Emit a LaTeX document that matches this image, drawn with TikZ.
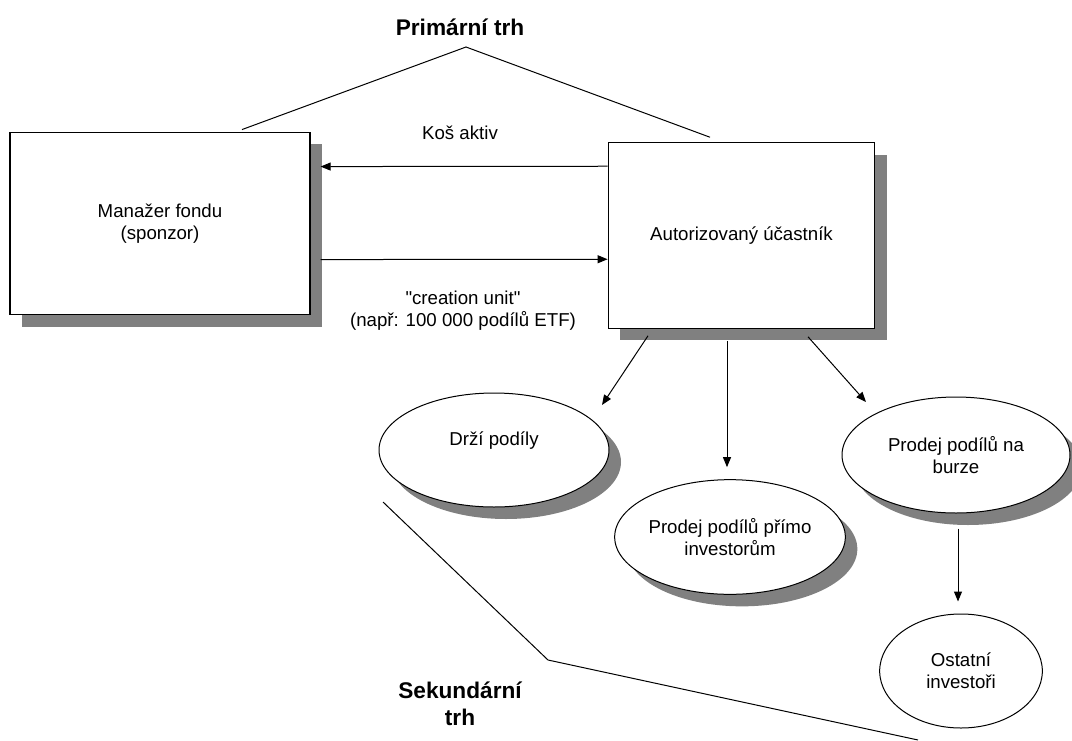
\documentclass[tikz,border=0pt]{standalone}
\usepackage{fontspec}
\setmainfont{Liberation Sans}[Ligatures=TeXOff]
\usetikzlibrary{positioning, shapes.geometric, shadows, arrows.meta}

\begin{document}
\begin{tikzpicture}[x=0.75pt,y=-0.75pt,line width=0.75pt,
    every node/.style={font=\fontsize{14}{16.5}\selectfont,align=center},
    titul/.style={font=\bfseries\fontsize{17}{20}\selectfont},
    stin/.style={drop shadow={shadow xshift=9pt,shadow yshift=-9pt,fill=gray,opacity=1}},
    box/.style={draw,line width=0.9pt,fill=white,rectangle,stin},
    elip/.style={draw,fill=white,ellipse,inner sep=0pt},
    arr/.style={-{Triangle[length=7.5pt,width=6pt]}}]
  \useasboundingbox (0,0) rectangle (1072,740);
  \node[titul] (pt) at (460,27) {Primární trh};%primární trh
  \node[box,minimum width=225pt,minimum height=137pt] (mf) at (160,223.5) {Manažer fondu\\(sponzor)};
  \node[box,minimum width=200pt,minimum height=139pt] (au) at (741.5,235.5) {Autorizovaný účastník};
  \node (ka) at (460,133) {Koš aktiv};
  \node (cu) at (463,311) {"creation unit"\\(např: 100 000 podílů ETF)};
  \node[elip,stin,minimum width=172.5pt,minimum height=85.5pt] (dp) at (494,450) {Drží podíly\\ \mbox{}};
  \node[elip,stin,minimum width=173pt,minimum height=86pt] (pp) at (730,537) {Prodej podílů přímo\\investorům};
  \node[elip,stin,minimum width=171pt,minimum height=87pt] (pb) at (956,455) {Prodej podílů na\\burze};
  \node[elip,minimum width=122pt,minimum height=85.5pt] (oi) at (961,671) {Ostatní\\investoři};
  \node[titul] (st) at (460,703.5) {Sekundární\\trh};%sekundární trh
  \coordinate (v1) at (466,47);
  \coordinate (v2) at (548,660);
  \coordinate (v3) at (918,740);
  \draw ([shift={(82,-2)}]mf.north) -- (v1) -- ([shift={(-31.5,-5)}]au.north);
  \draw ([shift={(-111,52)}]dp.center) -- (v2) -- (v3);
  \draw[arr] ([shift={(0,24)}]au.north west) -- ([shift={(10,35)}]mf.north east);
  \draw[arr] ([shift={(10,128)}]mf.north east) -- ([shift={(0,117)}]au.north west);
  \draw[arr] ([shift={(-93.5,7)}]au.south) -- ([shift={(108,-45)}]dp.center);
  \draw[arr] ([shift={(-14.5,12)}]au.south) -- ([shift={(-3,-12)}]pp.north);
  \draw[arr] ([shift={(66.5,8)}]au.south) -- ([shift={(-90,-53)}]pb.center);
  \draw[arr] ([shift={(2,15)}]pb.south) -- ([shift={(-3,-12)}]oi.north);
\end{tikzpicture}
\end{document}
